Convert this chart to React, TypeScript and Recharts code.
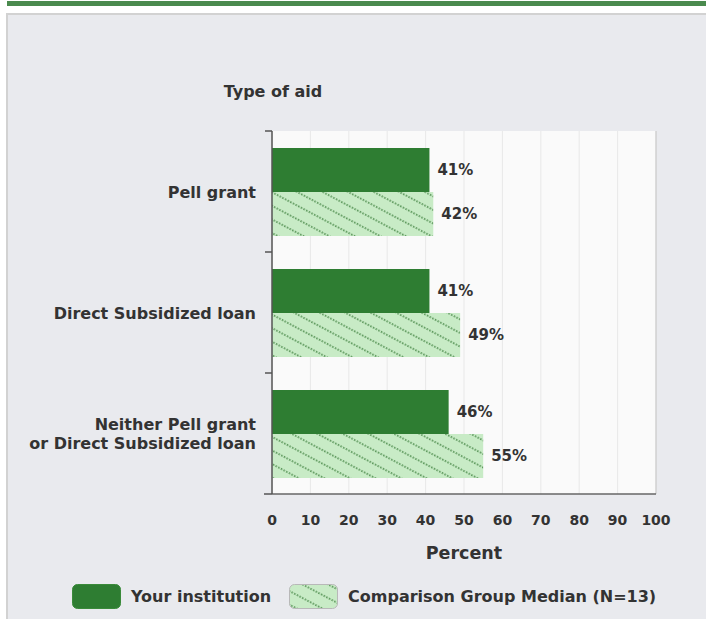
import React from "react";
import {
  BarChart,
  Bar,
  XAxis,
  YAxis,
  CartesianGrid,
  LabelList,
  ReferenceLine,
} from "recharts";

const categories = [
  "Pell grant",
  "Direct Subsidized loan",
  "Neither Pell grant\nor Direct Subsidized loan",
];
const yourInstitution = [41, 41, 46];
const comparisonMedian = [42, 49, 55];
const xTicks = [0, 10, 20, 30, 40, 50, 60, 70, 80, 90, 100];
const seriesNames = ["Your institution", "Comparison Group Median (N=13)"];

const data = categories.map((c, i) => ({
  category: c,
  yours: yourInstitution[i],
  comparison: comparisonMedian[i],
}));

const FONT = "'DejaVu Sans', sans-serif";
const TEXT = "#333333";
const DARK = "#2e7d32";
const LIGHT = "#c8ebc6";

const YTick = (props: any) => {
  const { x, y, payload, index } = props;
  const lines = String(payload.value).split("\n");
  const half = payload.offset || 0;
  const lh = 18.7;
  const startY = y - ((lines.length - 1) * lh) / 2;
  const axisX = x + 16;
  return (
    <g>
      <line x1={axisX - 7} x2={axisX} y1={y - half} y2={y - half} stroke="#555" strokeWidth={1.5} />
      {index === categories.length - 1 && (
        <line x1={axisX - 8} x2={axisX} y1={y + half} y2={y + half} stroke="#555" strokeWidth={1.5} />
      )}
      <text
        x={x}
        y={startY}
        textAnchor="end"
        dominantBaseline="central"
        fontFamily={FONT}
        fontWeight="bold"
        fontSize={16}
        fill={TEXT}
      >
        {lines.map((l, i) => (
          <tspan key={i} x={x} dy={i === 0 ? 0 : lh}>
            {l}
          </tspan>
        ))}
      </text>
    </g>
  );
};

const pctFormatter = (v: any) => `${v}%`;

const Hatch = ({ id }: { id: string }) => (
  <pattern id={id} width="12" height="12" patternUnits="userSpaceOnUse" patternTransform="rotate(28)">
    <rect width="12" height="12" fill={LIGHT} />
    <line x1="0" y1="6" x2="12" y2="6" stroke="#3f813f" strokeWidth="1.5" strokeDasharray="1.5 1.5" />
  </pattern>
);

export default function App() {
  return (
    <div
      style={{
        position: "absolute",
        left: 0,
        top: 0,
        width: 706,
        height: 619,
        background: "#ffffff",
        overflow: "hidden",
        fontFamily: FONT,
      }}
    >
      <div style={{ position: "absolute", left: 7, top: 1, width: 699, height: 5, background: "#4a8a4e" }} />
      <div
        style={{
          position: "absolute",
          left: 6,
          top: 13,
          width: 700,
          height: 606,
          background: "#e9eaee",
          borderLeft: "2px solid #d2d2d2",
          borderTop: "2px solid #d2d2d2",
          boxSizing: "border-box",
        }}
      />
      <div
        style={{
          position: "absolute",
          left: 173,
          top: 84,
          width: 200,
          textAlign: "center",
          fontWeight: "bold",
          fontSize: 16,
          lineHeight: "16px",
          color: TEXT,
        }}
      >
        Type of aid
      </div>
      <div style={{ position: "absolute", left: 0, top: 0 }}>
        <BarChart
          width={706}
          height={619}
          data={data}
          layout="vertical"
          margin={{ top: 131, right: 50, bottom: 60, left: 8 }}
          barGap={0}
          barSize={44}
        >
          <defs>
            <Hatch id="hatch" />
          </defs>
          <CartesianGrid horizontal={false} stroke="#e8e8e8" fill="#fafafa" />
          <XAxis
            type="number"
            domain={[0, 100]}
            ticks={xTicks}
            interval={0}
            tickLine={false}
            tickSize={0}
            tickMargin={21}
            axisLine={{ stroke: "#666", strokeWidth: 1.5 }}
            height={65}
            tick={{ fontFamily: FONT, fontWeight: "bold", fontSize: 14, fill: TEXT }}
            label={{
              value: "Percent",
              position: "insideBottom",
              offset: 0,
              style: { fontFamily: FONT, fontWeight: "bold", fontSize: 17.5, fill: TEXT },
            }}
          />
          <XAxis
            xAxisId="top"
            orientation="top"
            type="number"
            domain={[0, 100]}
            height={0}
            tick={false}
            tickLine={false}
            axisLine={{ stroke: "#c4c4c4" }}
          />
          <YAxis
            type="category"
            dataKey="category"
            width={264}
            tickLine={false}
            tickSize={0}
            tickMargin={16}
            axisLine={{ stroke: "#555", strokeWidth: 1.5 }}
            tick={<YTick />}
            interval={0}
          />
          <ReferenceLine x={100} stroke="#c4c4c4" />
          <Bar dataKey="yours" name={seriesNames[0]} fill={DARK} isAnimationActive={false}>
            <LabelList
              dataKey="yours"
              position="right"
              offset={8}
              formatter={pctFormatter}
              style={{ fontFamily: FONT, fontWeight: "bold", fontSize: 15, fill: TEXT }}
            />
          </Bar>
          <Bar dataKey="comparison" name={seriesNames[1]} fill="url(#hatch)" isAnimationActive={false}>
            <LabelList
              dataKey="comparison"
              position="right"
              offset={8}
              formatter={pctFormatter}
              style={{ fontFamily: FONT, fontWeight: "bold", fontSize: 15, fill: TEXT }}
            />
          </Bar>
        </BarChart>
      </div>
      <div
        style={{
          position: "absolute",
          left: 72,
          top: 584,
          display: "flex",
          alignItems: "center",
          fontWeight: "bold",
          fontSize: 16,
          color: TEXT,
          whiteSpace: "nowrap",
        }}
      >
        <svg width={49} height={25} style={{ display: "block" }}>
          <rect x={0.5} y={0.5} width={48} height={24} rx={5} fill={DARK} stroke="#3a8a3a" />
        </svg>
        <span style={{ marginLeft: 10, marginRight: 18 }}>{seriesNames[0]}</span>
        <svg width={49} height={25} style={{ display: "block" }}>
          <defs>
            <Hatch id="hatchL" />
          </defs>
          <rect x={0.5} y={0.5} width={48} height={24} rx={5} fill="url(#hatchL)" stroke="#b8b8b8" />
        </svg>
        <span style={{ marginLeft: 10 }}>{seriesNames[1]}</span>
      </div>
    </div>
  );
}
